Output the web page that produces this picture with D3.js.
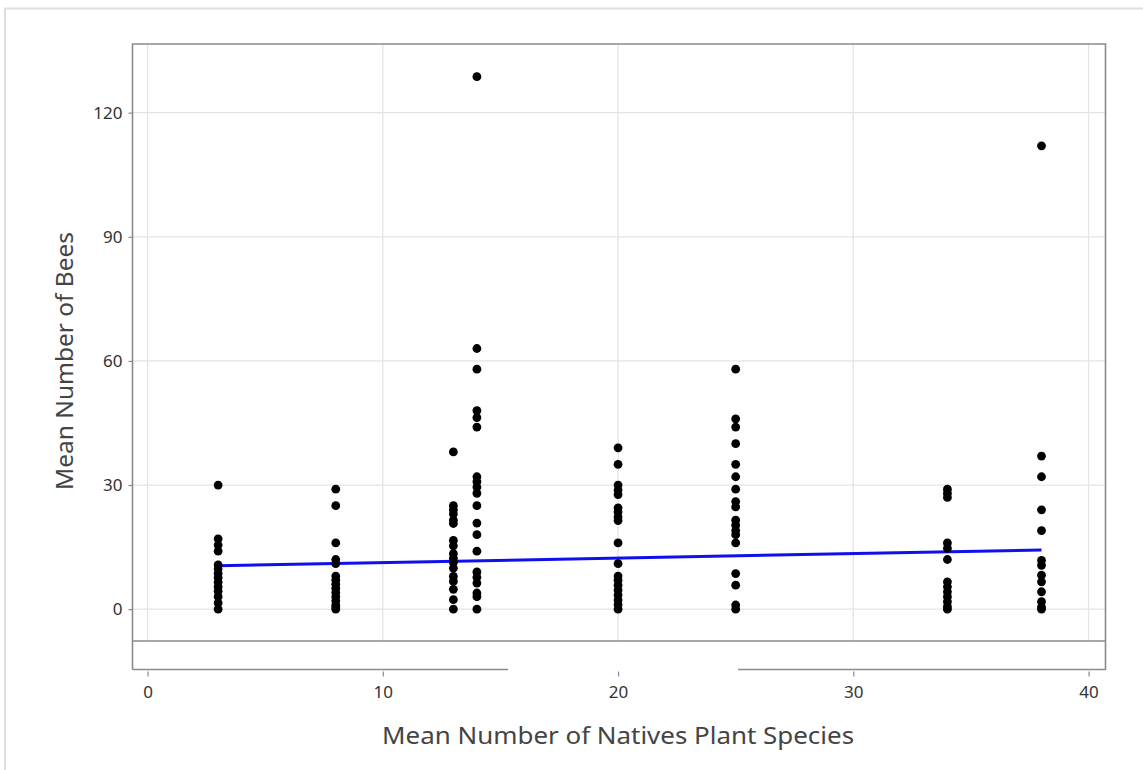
<!DOCTYPE html>
<html><head><meta charset="utf-8">
<script src="https://cdn.jsdelivr.net/npm/d3@7"></script>
<style>html,body{margin:0;padding:0;background:#fff;}svg{display:block;}</style>
</head><body>
<script>
// ---- data ----
const speciesLevels = [3, 8, 13, 14, 20, 25, 34, 38];
const bees3  = [30, 17, 15.5, 14, 10.7, 9.7, 8.6, 7.6, 6.5, 5.4, 4.3, 3, 1.5, 0];
const bees8  = [29, 25, 16, 12, 11, 8, 7, 6, 5, 4, 3, 2, 1, 0.5, 0];
const bees13 = [38, 25, 24, 23, 21.5, 20.7, 16.6, 15.3, 13.4, 12.3, 11.3, 9.9, 7.9, 6.7, 4.8, 2.3, 0];
const bees14 = [128.7, 63, 58, 48, 46.3, 44, 32, 30.8, 29.5, 28, 25, 20.8, 18, 14, 9, 7.7, 6.3, 3.9, 3, 0];
const bees20 = [39, 35, 30, 28.8, 27.7, 24.5, 23.5, 22.3, 21.4, 16, 11, 8, 7, 5.8, 4.6, 3.4, 2.2, 1.1, 0];
const bees25 = [58, 46, 44, 40, 35, 32, 29, 26, 24.7, 21.5, 20.3, 19, 18, 16, 8.6, 5.8, 1, 0];
const bees34 = [29, 28, 27, 16, 14.7, 12, 6.6, 5.4, 4.2, 3, 1.8, 0.6, 0];
const bees38 = [112, 37, 32, 24, 19, 11.8, 10.6, 8.2, 6.6, 4.2, 1.8, 0.5, 0];
const beeColumns = [bees3, bees8, bees13, bees14, bees20, bees25, bees34, bees38];
const fitX = [3, 38];
const fitY = [10.5, 14.3];
const xTicks = [0, 10, 20, 30, 40];
const yTicks = [0, 30, 60, 90, 120];
const xTitle = "Mean Number of Natives Plant Species";
const yTitle = "Mean Number of Bees";

const points = [];
speciesLevels.forEach((s, i) => beeColumns[i].forEach(v => points.push({x: s, y: v})));

const W = 1143, H = 770;
const FONT = "'Noto Sans', 'Open Sans', sans-serif";
const svg = d3.select("body").append("svg").attr("width", W).attr("height", H);

// outer light frame
svg.append("path").attr("d", `M5,${H+5} L5,8.5 L${W+5},8.5`)
  .attr("fill", "none").attr("stroke", "#dddddd").attr("stroke-width", 2);

const pLeft = 132.5, pRight = 1105.5, pTop = 44, bandY = 641, pBottom = 669.5;
const x = d3.scaleLinear().domain([-0.64, 40.72]).range([pLeft, pRight]);
const y = d3.scaleLinear().domain([-7.7, 136.6]).range([bandY, pTop]);

// gridlines
const grid = svg.append("g").attr("stroke", "#e4e4e4").attr("stroke-width", 1.3);
grid.selectAll("line.gx").data(xTicks).join("line").attr("class", "gx")
  .attr("x1", d => x(d)).attr("x2", d => x(d)).attr("y1", pTop).attr("y2", bandY);
grid.selectAll("line.gy").data(yTicks).join("line").attr("class", "gy")
  .attr("y1", d => y(d)).attr("y2", d => y(d)).attr("x1", pLeft).attr("x2", pRight);

// regression line
svg.append("line")
  .attr("x1", x(fitX[0])).attr("y1", y(fitY[0]))
  .attr("x2", x(fitX[1])).attr("y2", y(fitY[1]))
  .attr("stroke", "#1010ee").attr("stroke-width", 3);

// points
svg.append("g").selectAll("circle").data(points).join("circle")
  .attr("cx", d => x(d.x)).attr("cy", d => y(d.y)).attr("r", 4.4).attr("fill", "#000");

// panel frame
const frameColor = "#8a8a8a";
svg.append("path")
  .attr("d", `M${pLeft},${pBottom} L${pLeft},${pTop} L${pRight},${pTop} L${pRight},${pBottom} L738,${pBottom} M508,${pBottom} L${pLeft},${pBottom} M${pLeft},${bandY} L${pRight},${bandY}`)
  .attr("fill", "none").attr("stroke", frameColor).attr("stroke-width", 1.6);

// y axis
const yAxis = d3.axisLeft(y).tickValues(yTicks).tickSize(4).tickPadding(6);
const gy = svg.append("g").attr("transform", `translate(${pLeft},0)`).call(yAxis);
gy.select(".domain").remove();
gy.selectAll(".tick line").attr("stroke", frameColor).attr("stroke-width", 1.2);
gy.selectAll(".tick text").attr("font-family", FONT).attr("font-size", 17).attr("fill", "#333");

// x axis
const xAxis = d3.axisBottom(x).tickValues(xTicks).tickSize(5).tickPadding(9);
const gx = svg.append("g").attr("transform", `translate(0,${pBottom + 2})`).call(xAxis);
gx.select(".domain").remove();
gx.selectAll(".tick line").attr("stroke", frameColor).attr("stroke-width", 1.2);
gx.selectAll(".tick text").attr("font-family", FONT).attr("font-size", 17).attr("fill", "#333");

// titles
svg.append("text").attr("x", x(20)).attr("y", 744).attr("text-anchor", "middle")
  .attr("font-family", FONT).attr("font-size", 24).attr("fill", "#444")
  .attr("textLength", 472).attr("lengthAdjust", "spacingAndGlyphs").text(xTitle);
svg.append("text").attr("transform", `translate(73,${y(60)}) rotate(-90)`).attr("text-anchor", "middle")
  .attr("font-family", FONT).attr("font-size", 24).attr("fill", "#444")
  .attr("textLength", 258).attr("lengthAdjust", "spacingAndGlyphs").text(yTitle);
</script>
</body></html>
